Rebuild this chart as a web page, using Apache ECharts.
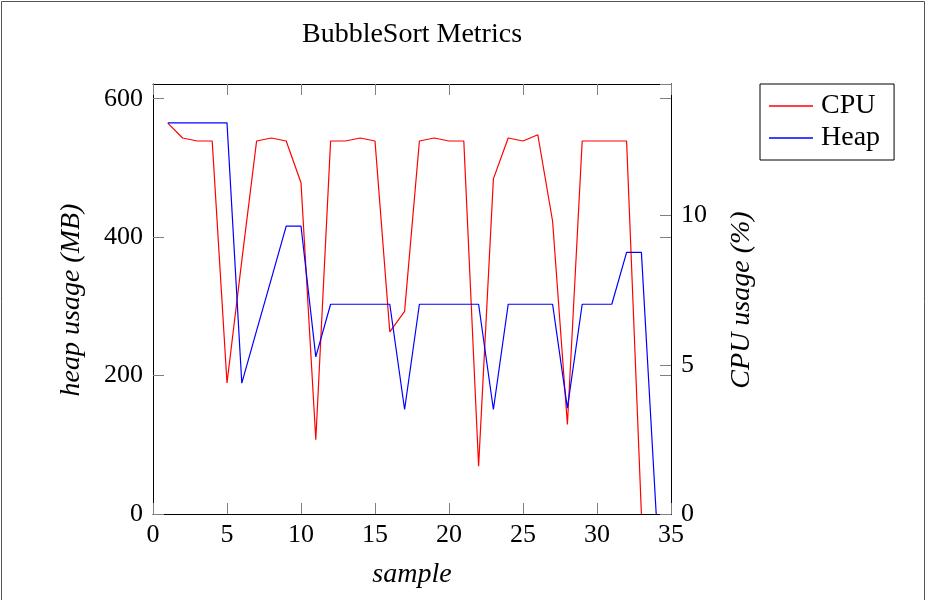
<!DOCTYPE html>
<html>
<head>
<meta charset="utf-8">
<script src="https://cdn.jsdelivr.net/npm/echarts@6/dist/echarts.min.js"></script>
<style>
html,body{margin:0;padding:0;background:#fff;}
#chart{width:929px;height:600px;}
</style>
</head>
<body>
<div id="chart"></div>
<script>
var samples = [1,2,3,4,5,6,7,8,9,10,11,12,13,14,15,16,17,18,19,20,21,22,23,24,25,26,27,28,29,30,31,32,33,34];
var cpuUsage = [13.1,12.6,12.5,12.5,4.39,8.49,12.5,12.6,12.5,11.1,2.49,12.5,12.5,12.6,12.5,6.1,6.79,12.5,12.6,12.5,12.5,1.6,11.23,12.6,12.5,12.71,9.81,3.0,12.5,12.5,12.5,12.5,0,null];
var heapUsage = [565,565,565,565,565,189,265,340,416,416,227,303,303,303,303,303,151,303,303,303,303,303,151,303,303,303,303,153,303,303,303,378,378,0];
var xTicks = [0,5,10,15,20,25,30,35];
var heapTicks = [0,200,400,600];
var cpuTicks = [0,5,10];
var seriesNames = ['CPU','Heap'];
var titleText = 'BubbleSort Metrics';
var xName = 'sample';
var heapName = 'heap usage (MB)';
var cpuName = 'CPU usage (%)';

var SERIF = '"Liberation Serif", "DejaVu Serif", serif';
var chart = echarts.init(document.getElementById('chart'), null, {renderer:'canvas'});

function pairs(ys){ return samples.map(function(s,i){ return [s, ys[i]]; }); }
function tickFmt(ticks){ return function(v){ return ticks.indexOf(Math.round(v*1000)/1000) >= 0 ? String(v) : ''; }; }

var tickStyle = {show:true, inside:true, length:11, lineStyle:{color:'#808080', width:1}};
var lineAx = {show:true, onZero:false, lineStyle:{color:'#000', width:1}};
var lblStyle = {fontFamily:SERIF, fontSize:26, color:'#000'};

var option = {
  animation:false,
  backgroundColor:'#fff',
  grid:{left:153, right:258, top:84, bottom:86, show:false},
  legend:{
    data:seriesNames,
    orient:'vertical',
    left:760, top:84,
    padding:[7,14,7,9],
    itemGap:2,
    icon:'rect',
    itemWidth:44, itemHeight:1.3,
    borderColor:'#000', borderWidth:1,
    backgroundColor:'#fff',
    textStyle:{fontFamily:SERIF, fontSize:28, color:'#000', lineHeight:30, padding:[0,0,0,3]}
  },
  xAxis:[
    {type:'value', min:0, max:35, interval:5, position:'bottom',
     axisLine:lineAx, axisTick:tickStyle, splitLine:{show:false},
     axisLabel:Object.assign({margin:8, formatter:tickFmt(xTicks), hideOverlap:false}, lblStyle)},
    {type:'value', min:0, max:35, interval:5, position:'top',
     axisLine:lineAx, axisTick:tickStyle, splitLine:{show:false}, axisLabel:{show:false}}
  ],
  yAxis:[
    {type:'value', min:0, max:621.2, interval:200, position:'left',
     axisLine:lineAx, axisTick:tickStyle, splitLine:{show:false},
     axisLabel:Object.assign({margin:10, showMaxLabel:false, formatter:tickFmt(heapTicks), hideOverlap:false}, lblStyle)},
    {type:'value', min:0, max:621.2, interval:200, position:'right',
     axisLine:lineAx, axisTick:tickStyle, splitLine:{show:false}, axisLabel:{show:false}},
    {type:'value', min:0, max:14.41, interval:5, position:'right',
     axisLine:lineAx, axisTick:tickStyle, splitLine:{show:false},
     axisLabel:Object.assign({margin:10, showMaxLabel:false, formatter:tickFmt(cpuTicks), hideOverlap:false}, lblStyle)}
  ],
  series:[
    {name:seriesNames[0], type:'line', yAxisIndex:2, data:pairs(cpuUsage), symbol:'none',
     lineStyle:{color:'#ff0000', width:1.2}, itemStyle:{color:'#ff0000'}, connectNulls:false},
    {name:seriesNames[1], type:'line', yAxisIndex:0, data:pairs(heapUsage), symbol:'none',
     lineStyle:{color:'#0000ff', width:1.2}, itemStyle:{color:'#0000ff'}}
  ],
  graphic:[
    {type:'rect', shape:{x:1.5, y:1.5, width:923, height:620}, style:{fill:null, stroke:'#555', lineWidth:1}, silent:true, z:-10},
    {type:'text', x:412, y:35, style:{text:titleText, font:'28px '+SERIF, fill:'#000', textAlign:'center', textVerticalAlign:'middle'}},
    {type:'text', x:412, y:575, style:{text:xName, font:'italic 28px '+SERIF, fill:'#000', textAlign:'center', textVerticalAlign:'middle'}},
    {type:'text', x:72, y:300, rotation:Math.PI/2, style:{text:heapName, font:'italic 28px '+SERIF, fill:'#000', textAlign:'center', textVerticalAlign:'middle'}},
    {type:'text', x:742, y:300, rotation:Math.PI/2, style:{text:cpuName, font:'italic 28px '+SERIF, fill:'#000', textAlign:'center', textVerticalAlign:'middle'}}
  ]
};
chart.setOption(option);
</script>
</body>
</html>
